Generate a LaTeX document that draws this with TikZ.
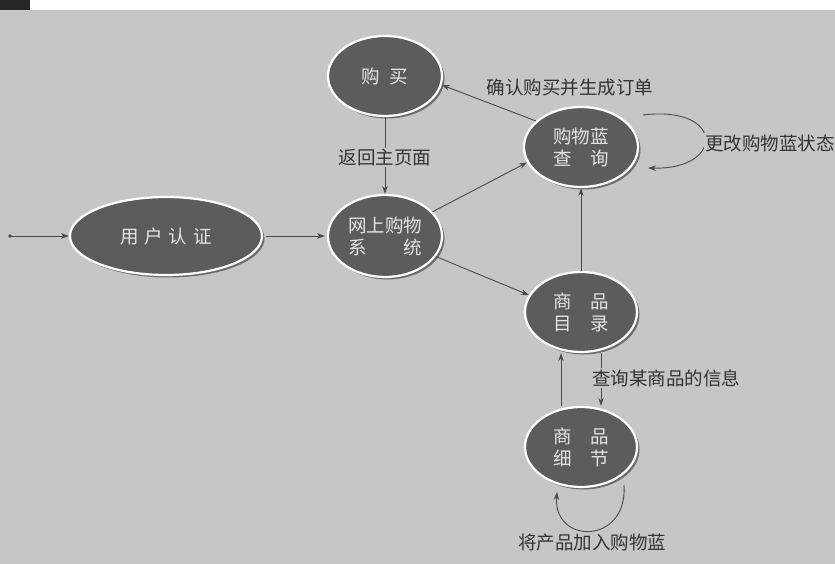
\documentclass[tikz,border=0pt]{standalone}
\usepackage{fontspec}
\setmainfont{Noto Sans CJK SC}
\usetikzlibrary{shapes.geometric,arrows.meta,shadows}
\definecolor{bg}{HTML}{C6C6C6}
\definecolor{nodefill}{HTML}{5C5C5C}
\definecolor{edgec}{HTML}{4A4A4A}
\definecolor{ntext}{HTML}{E4E4E4}
\definecolor{ltext}{HTML}{333333}
\tikzset{
 state/.style={ellipse, fill=nodefill, draw=white, line width=2.2pt, text=ntext,
   inner sep=0pt, align=center, font=\fontsize{18.5}{22}\selectfont,
   minimum width=114pt, minimum height=80pt,
   drop shadow={shadow xshift=2.5pt, shadow yshift=-2.5pt, fill=black, opacity=0.45}},
 conn/.style={draw=edgec, line width=0.9pt, -{Stealth[length=8pt,width=5.5pt]}},
 lbl/.style={font=\fontsize{18.5}{22}\selectfont, text=ltext, fill=bg, inner sep=1pt},
}
\begin{document}
\begin{tikzpicture}[x=1pt,y=-1pt]
\useasboundingbox (0,0) rectangle (835,564);
\fill[bg] (0,10) rectangle (835,564);
\fill[white] (0,0) rectangle (835,10);
\fill[black!85] (0,0) rectangle (30,10);

% nodes
\node[state] (gm) at (385,76) {购\hspace{10pt}买};
\node[state] (gw) at (581,147) {购物蓝\\查　询};
\node[state, minimum width=192pt, minimum height=78pt] (yh) at (166,236) {用\hspace{6pt}户\hspace{6pt}认\hspace{6pt}证};
\node[state, minimum height=82pt] (wl) at (385,236) {网上购物\\系\qquad 统};
\node[state, minimum width=112pt] (ml) at (581,312) {商　品\\目　录};
\node[state, minimum width=112pt] (mx) at (581,447) {商　品\\细　节};

% start
\coordinate (start) at (10,236);
\fill[edgec] (start) circle (1.8pt);
\draw[conn] (start) -- (yh);

% edges
\draw[conn, shorten <=3pt, shorten >=2pt] (yh) -- (wl);
\draw[conn] (gm) -- (wl);
\node[lbl] (l0) at (385,158) {返回主页面};
\draw[conn] (wl.27) -- (gw.196);
\draw[conn] (wl.-22) -- (ml.162);
\draw[conn] (gw.150) -- (gm.-9);
\node[lbl] (l1) at (570,88) {确认购买并生成订单};
\draw[conn] (ml) -- (gw);
\draw[conn] ([xshift=-20pt]mx.north) -- ([xshift=-20pt]ml.south);
\draw[conn] ([xshift=20pt]ml.south) -- ([xshift=20pt]mx.north);
\node[lbl] (l2) at (666,378) {查询某商品的信息};

% self loops
\coordinate (gwA) at (643,115);
\coordinate (gwB) at (648,168);
\draw[conn] (gwA) .. controls (725,105) and (725,170) .. (gwB);
\node[lbl] (l3) at (770,143) {更改购物蓝状态};

\coordinate (mxA) at (624,485);
\coordinate (mxB) at (557,492);
\draw[conn] (mxA) .. controls (628,545) and (553,545) .. (mxB);
\node[lbl] (l4) at (592,543) {将产品加入购物蓝};
\end{tikzpicture}
\end{document}
